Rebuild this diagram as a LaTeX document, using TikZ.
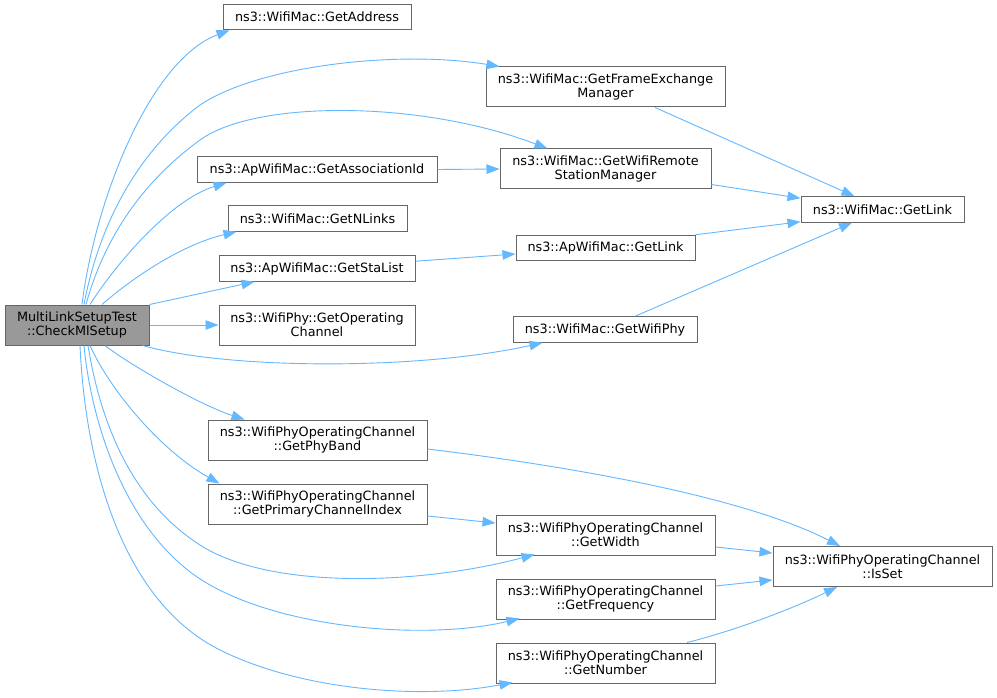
\documentclass[tikz,border=0pt]{standalone}
\usepackage{fontspec}
\setmainfont{DejaVu Sans}
\usetikzlibrary{arrows.meta,calc}
\definecolor{edgec}{HTML}{63B8FF}
\definecolor{boxc}{HTML}{666666}
\definecolor{mainfill}{HTML}{999999}
\begin{document}
\begin{tikzpicture}[x=1pt,y=-1pt,
  fn/.style={draw=boxc, line width=1pt, fill=white, inner sep=0pt, align=center,
    font=\fontsize{12.8}{13.8}\selectfont, minimum width=#1},
  one/.style={minimum height=25.5},
  two/.style={minimum height=40},
  ed/.style={draw=edgec, line width=0.9pt, -{Triangle[length=13pt,width=9.5pt]}}]
\fill[white] (0,0) rectangle (997,698);
\useasboundingbox (0,0) rectangle (997,698);

\node[fn=144, two, fill=mainfill] (main) at (77,325) {MultiLinkSetupTest\\::CheckMlSetup};
\node[fn=188, one] (addr) at (317,17) {ns3::WifiMac::GetAddress};
\node[fn=239, two] (fem) at (605.5,87) {ns3::WifiMac::GetFrameExchange\\Manager};
\node[fn=240, one] (assoc) at (317,169.5) {ns3::ApWifiMac::GetAssociationId};
\node[fn=211, two] (wrsm) at (605.5,169) {ns3::WifiMac::GetWifiRemote\\StationManager};
\node[fn=163, one] (link) at (882.5,209.5) {ns3::WifiMac::GetLink};
\node[fn=179, one] (nlinks) at (317.5,218.5) {ns3::WifiMac::GetNLinks};
\node[fn=196, one] (stalist) at (317,268.5) {ns3::ApWifiMac::GetStaList};
\node[fn=196, two] (opch) at (317,325) {ns3::WifiPhy::GetOperating\\Channel};
\node[fn=179, one] (aplink) at (605.5,248) {ns3::ApWifiMac::GetLink};
\node[fn=184, one] (phy) at (605,329.5) {ns3::WifiMac::GetWifiPhy};
\node[fn=219, two] (phyband) at (317.5,440) {ns3::WifiPhyOperatingChannel\\::GetPhyBand};
\node[fn=219, two] (pci) at (317.5,504) {ns3::WifiPhyOperatingChannel\\::GetPrimaryChannelIndex};
\node[fn=219, two] (width) at (605.5,535) {ns3::WifiPhyOperatingChannel\\::GetWidth};
\node[fn=219, two] (isset) at (882.5,566.5) {ns3::WifiPhyOperatingChannel\\::IsSet};
\node[fn=219, two] (freq) at (605.5,599) {ns3::WifiPhyOperatingChannel\\::GetFrequency};
\node[fn=219, two] (number) at (605.5,663) {ns3::WifiPhyOperatingChannel\\::GetNumber};

% edges from main
\draw[ed] ($(main.north)+(5,0)$) .. controls (95,200) and (150,60) .. ($(addr.south west)+(7,0)$);
\draw[ed] ($(main.north)+(7,0)$) .. controls (100,220) and (140,150) .. (200,105)
  .. controls (260,65) and (400,50) .. ($(fem.north west)+(14,0)$);
\draw[ed] ($(main.north)+(9,0)$) .. controls (105,235) and (145,180) .. (200,140)
  .. controls (255,100) and (420,100) .. ($(wrsm.north west)+(48,0)$);
\draw[ed] ($(main.north)+(13,0)$) .. controls (115,265) and (170,200) .. ($(assoc.south west)+(30,0)$);
\draw[ed] ($(main.north)+(25,0)$) .. controls (130,280) and (180,245) .. ($(nlinks.south west)+(9,0)$);
\draw[ed] (main.north east) -- ($(stalist.south west)+(36,0)$);
\draw[ed] (main.east) -- (opch.west);
\draw[ed] ($(main.south east)+(-7,0)$) .. controls (230,370) and (420,370) .. ($(phy.south west)+(30,0)$);
\draw[ed] ($(main.south)+(28,0)$) .. controls (130,365) and (200,405) .. ($(phyband.north west)+(37,0)$);
\draw[ed] ($(main.south)+(13,0)$) .. controls (110,390) and (160,450) .. ($(pci.north west)+(12,0)$);
\draw[ed] ($(main.south)+(11,0)$) .. controls (100,420) and (130,500) .. (200,545)
  .. controls (270,590) and (420,585) .. ($(width.south west)+(39,-1)$);
\draw[ed] ($(main.south)+(7,0)$) .. controls (92,430) and (130,540) .. (210,585)
  .. controls (290,630) and (430,640) .. ($(freq.south west)+(24,-1)$);
\draw[ed] ($(main.south)+(3,0)$) .. controls (85,460) and (120,600) .. (220,650)
  .. controls (300,690) and (420,700) .. ($(number.south west)+(17,-1)$);

% other edges
\draw[ed] ($(fem.south)+(49.5,0)$) -- ($(link.north west)+(54,0)$);
\draw[ed] (assoc.east) -- (wrsm.west);
\draw[ed] ($(wrsm.south east)+(0,-5)$) -- ($(link.north west)+(0,2)$);
\draw[ed] (aplink.north east) -- ($(link.south west)+(0,-1)$);
\draw[ed] ($(phy.north)+(30,0)$) -- ($(link.south)+(-30.5,0)$);
\draw[ed] ($(stalist.north east)+(0,6)$) -- ($(aplink.west)+(0,6)$);
\draw[ed] ($(phyband.east)+(0,9)$) .. controls (560,465) and (740,495) .. ($(isset.north)+(-42.5,0)$);
\draw[ed] ($(pci.east)+(0,12)$) -- ($(width.west)+(0,-12)$);
\draw[ed] ($(width.east)+(0,12)$) -- ($(isset.west)+(0,-13.5)$);
\draw[ed] ($(freq.east)+(0,-13)$) -- ($(isset.west)+(0,13.5)$);
\draw[ed] ($(number.north)+(81.5,0)$) .. controls (730,632) and (790,610) .. ($(isset.south)+(-45.5,0)$);
\end{tikzpicture}
\end{document}
